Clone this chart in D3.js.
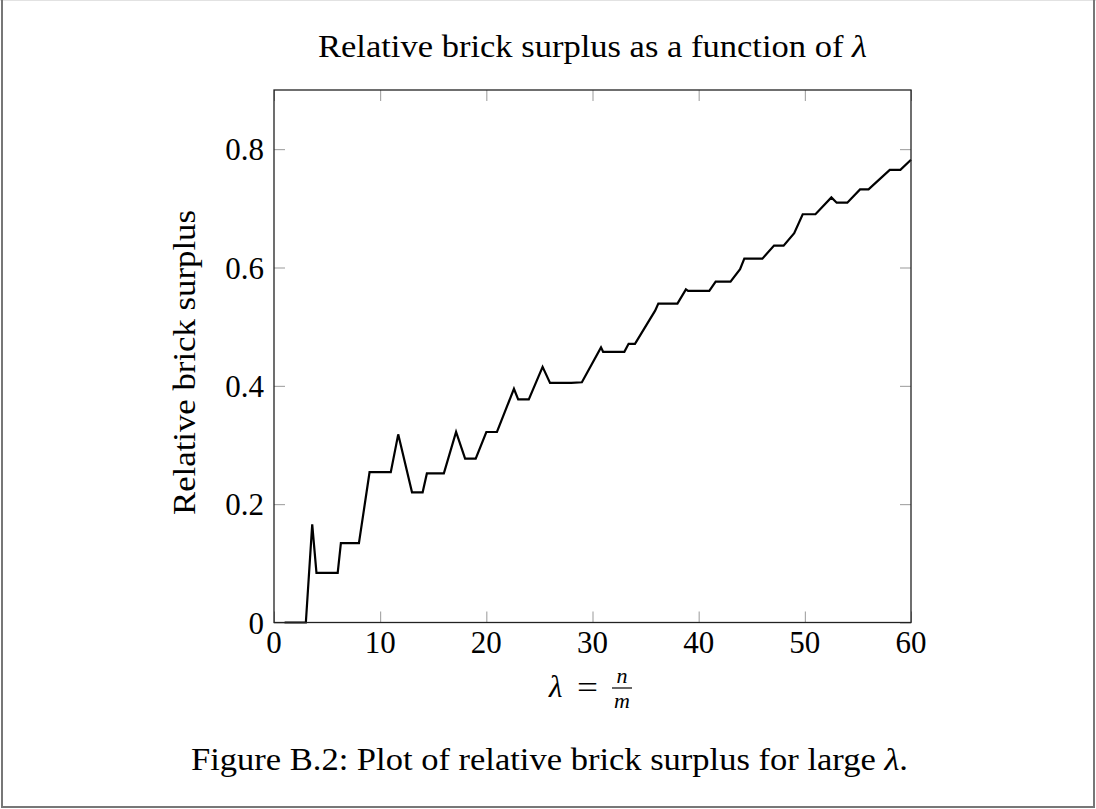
<!DOCTYPE html>
<html>
<head>
<meta charset="utf-8">
<script src="https://cdn.jsdelivr.net/npm/d3@7"></script>
<style>
  body { margin: 0; background: #fff; }
  svg text { font-family: "Liberation Serif", "Times New Roman", serif; fill: #000; }
</style>
</head>
<body>
<div id="chart"></div>
<script>
// data: lambda and relative brick surplus
const lambdaValues = [1, 3, 3.6, 4, 6, 6.3, 8, 9, 11, 11.7, 13, 14, 14.4, 16, 17.15, 18, 19, 20, 21,
  22.6, 23, 24, 25.3, 26, 28, 29, 30.8, 31, 33, 33.4, 34, 35.9, 36.2, 38, 38.8, 39, 41, 41.6, 43,
  43.9, 44.3, 46, 47.1, 48, 49, 49.8, 51, 52.5, 53, 54, 55.2, 56, 58, 59, 60];
const surplusValues = [0, 0, 0.166, 0.084, 0.084, 0.134, 0.134, 0.254, 0.254, 0.318, 0.22, 0.22, 0.252, 0.252, 0.322, 0.277, 0.277, 0.322, 0.322,
  0.395, 0.377, 0.377, 0.432, 0.405, 0.405, 0.406, 0.465, 0.4575, 0.4575, 0.471, 0.471, 0.527, 0.539, 0.539, 0.563, 0.5605, 0.5605, 0.576, 0.576,
  0.597, 0.615, 0.615, 0.637, 0.637, 0.658, 0.69, 0.69, 0.7185, 0.7095, 0.7095, 0.732, 0.732, 0.765, 0.765, 0.782];
const xTicks = [0, 10, 20, 30, 40, 50, 60];
const yTicks = [0, 0.2, 0.4, 0.6, 0.8];

const W = 1096, H = 809;
const plot = { left: 274, right: 911, top: 90, bottom: 622.5 };

const data = lambdaValues.map((d, i) => ({ x: d, y: surplusValues[i] }));

const svg = d3.select("#chart").append("svg")
  .attr("width", W)
  .attr("height", H);

// page frame
svg.append("line").attr("x1", 0).attr("x2", W).attr("y1", 0.5).attr("y2", 0.5)
  .attr("stroke", "#e2e2e2").attr("stroke-width", 1);
svg.append("line").attr("x1", 2).attr("x2", 2).attr("y1", 0).attr("y2", 808)
  .attr("stroke", "#777").attr("stroke-width", 2);
svg.append("line").attr("x1", 1094).attr("x2", 1094).attr("y1", 0).attr("y2", 808)
  .attr("stroke", "#777").attr("stroke-width", 2);
svg.append("line").attr("x1", 1).attr("x2", 1095).attr("y1", 807).attr("y2", 807)
  .attr("stroke", "#777").attr("stroke-width", 2);

const x = d3.scaleLinear().domain([0, 60]).range([plot.left, plot.right]);
const y = d3.scaleLinear().domain([0, 0.9]).range([plot.bottom, plot.top]);

const tickLen = 11;
const fmt = d => d === 0 ? "0" : d3.format(".1f")(d);

// inner ticks on all sides
const axisG = svg.append("g");
function styleTicks(g) {
  g.select(".domain").remove();
  g.selectAll(".tick line").attr("stroke", "#999").attr("stroke-width", 1);
}
axisG.append("g").attr("transform", `translate(0,${plot.bottom})`)
  .call(d3.axisBottom(x).tickValues(xTicks).tickSizeInner(-tickLen).tickFormat(""))
  .call(styleTicks);
axisG.append("g").attr("transform", `translate(0,${plot.top})`)
  .call(d3.axisTop(x).tickValues(xTicks).tickSizeInner(-tickLen).tickFormat(""))
  .call(styleTicks);
axisG.append("g").attr("transform", `translate(${plot.left},0)`)
  .call(d3.axisLeft(y).tickValues(yTicks).tickSizeInner(-tickLen).tickFormat(""))
  .call(styleTicks);
axisG.append("g").attr("transform", `translate(${plot.right},0)`)
  .call(d3.axisRight(y).tickValues(yTicks).tickSizeInner(-tickLen).tickFormat(""))
  .call(styleTicks);

// tick labels
svg.append("g").selectAll("text").data(xTicks).enter().append("text")
  .attr("x", d => x(d))
  .attr("y", 653)
  .attr("text-anchor", "middle")
  .style("font-size", "31px")
  .text(d => d);

svg.append("g").selectAll("text").data(yTicks).enter().append("text")
  .attr("x", plot.left - 10)
  .attr("y", d => y(d) + 11)
  .attr("text-anchor", "end")
  .style("font-size", "31px")
  .text(fmt);

// the line
svg.append("path")
  .datum(data)
  .attr("fill", "none")
  .attr("stroke", "#000")
  .attr("stroke-width", 2.2)
  .attr("stroke-linejoin", "miter")
  .attr("d", d3.line().x(d => x(d.x)).y(d => y(d.y)));

// frame of the plot
svg.append("rect")
  .attr("x", plot.left).attr("y", plot.top)
  .attr("width", plot.right - plot.left).attr("height", plot.bottom - plot.top)
  .attr("fill", "none").attr("stroke", "#222").attr("stroke-width", 1.3);

// title (stretched to the width of the original Computer Modern text)
const title = svg.append("text")
  .attr("x", 318)
  .attr("y", 57)
  .attr("textLength", 549)
  .attr("lengthAdjust", "spacingAndGlyphs")
  .style("font-size", "31px");
title.append("tspan").text("Relative brick surplus as a function of ");
title.append("tspan").style("font-style", "italic").text("λ");

// y label
svg.append("text")
  .attr("transform", `translate(195,515) rotate(-90)`)
  .attr("textLength", 305)
  .attr("lengthAdjust", "spacingAndGlyphs")
  .style("font-size", "31px")
  .text("Relative brick surplus");

// x label: lambda = n / m
const xl = svg.append("g");
xl.append("text").attr("x", 549).attr("y", 697).style("font-size", "31px")
  .style("font-style", "italic").text("λ");
xl.append("text").attr("x", 577).attr("y", 698).style("font-size", "31px")
  .attr("textLength", 21).attr("lengthAdjust", "spacingAndGlyphs").text("=");
xl.append("line").attr("x1", 612).attr("x2", 632).attr("y1", 688).attr("y2", 688)
  .attr("stroke", "#000").attr("stroke-width", 1.2);
xl.append("text").attr("x", 622).attr("y", 683).attr("text-anchor", "middle")
  .style("font-size", "22px").style("font-style", "italic").text("n");
xl.append("text").attr("x", 622).attr("y", 708).attr("text-anchor", "middle")
  .style("font-size", "22px").style("font-style", "italic").text("m");

// caption
const caption = svg.append("text")
  .attr("x", 191)
  .attr("y", 770)
  .attr("textLength", 717)
  .attr("lengthAdjust", "spacingAndGlyphs")
  .style("font-size", "31px");
caption.append("tspan").text("Figure B.2: Plot of relative brick surplus for large ");
caption.append("tspan").style("font-style", "italic").text("λ");
caption.append("tspan").text(".");
</script>
</body>
</html>
